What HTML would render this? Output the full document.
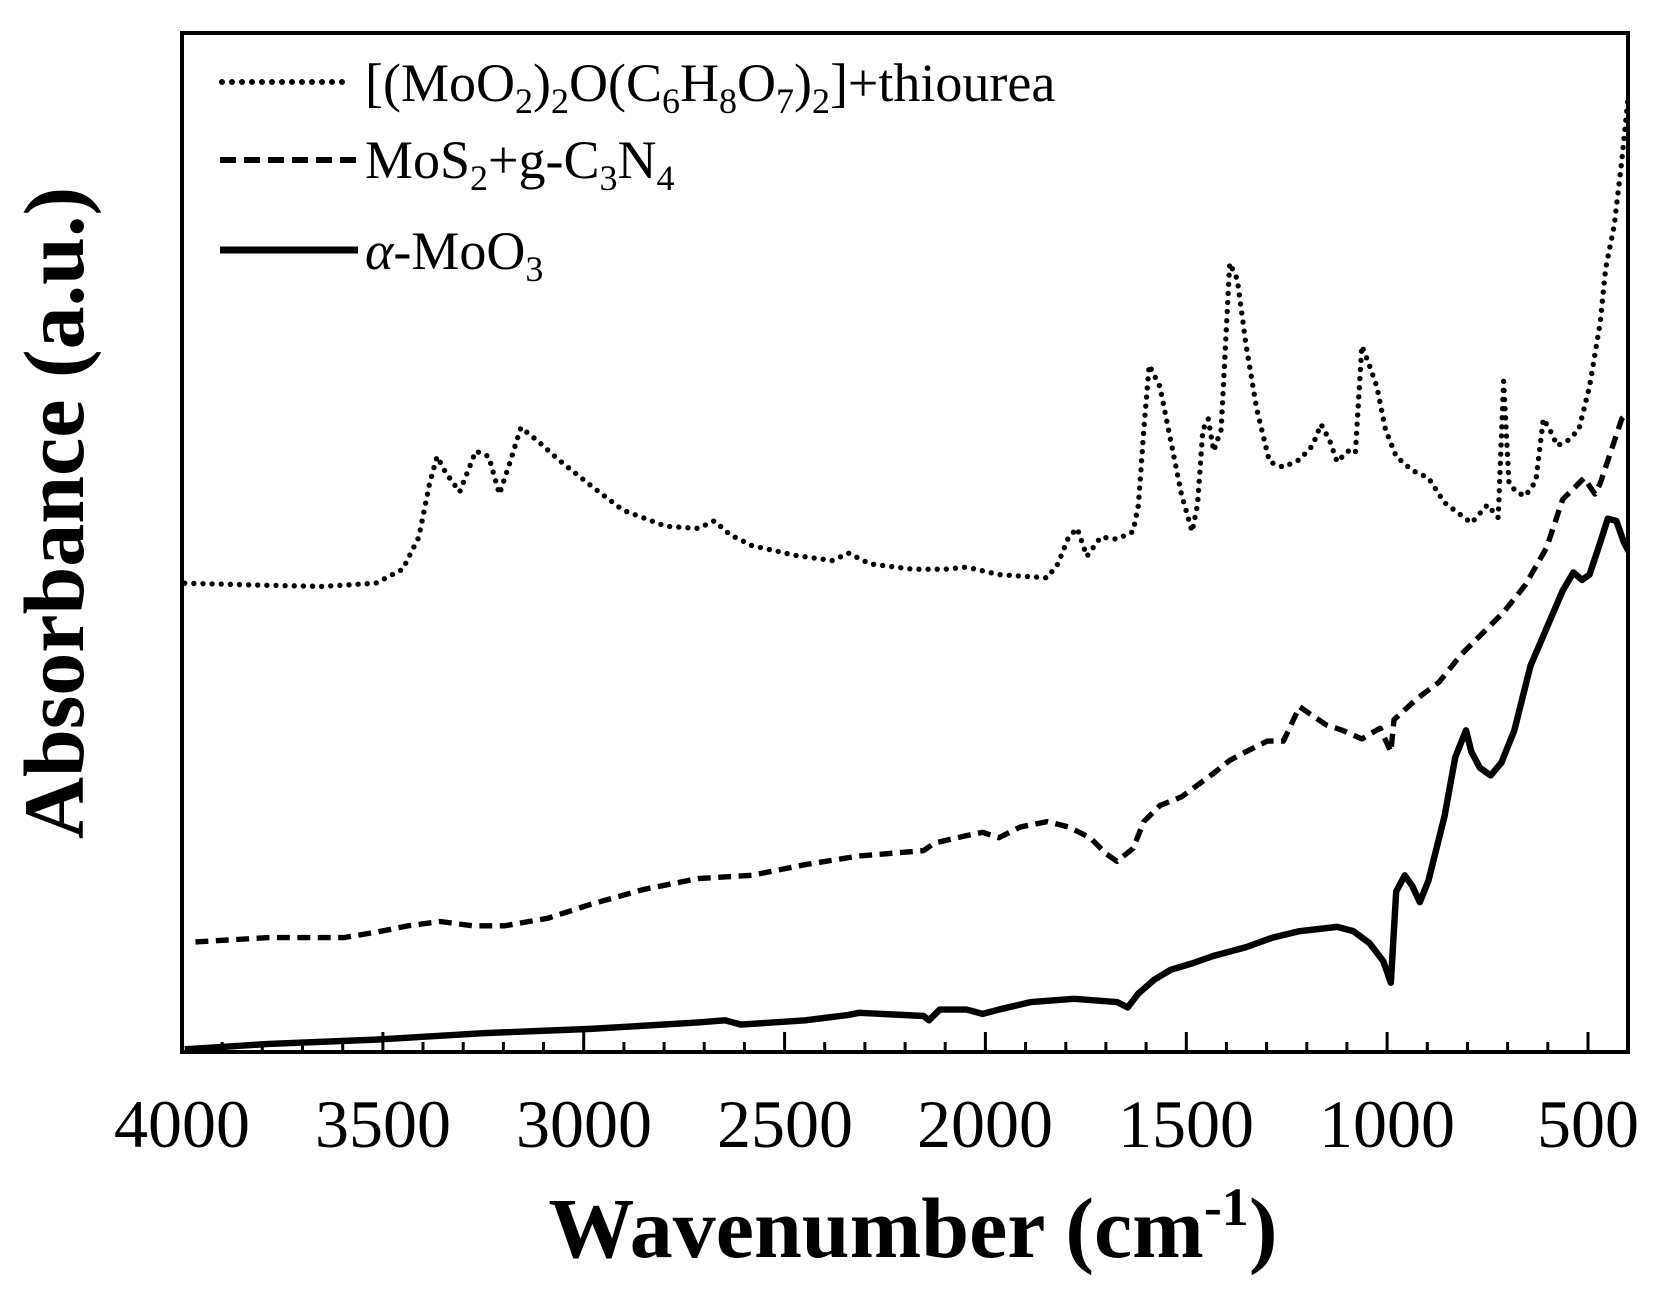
<!DOCTYPE html>
<html><head><meta charset="utf-8"><style>
html,body{margin:0;padding:0;background:#fff}
svg text{font-family:"Liberation Serif",serif}
</style></head><body>
<svg width="1676" height="1288" viewBox="0 0 1676 1288" xmlns="http://www.w3.org/2000/svg">
<defs><clipPath id="c"><rect x="182" y="33" width="1446" height="1019"/></clipPath></defs>
<g stroke="#000" stroke-width="3">
<line x1="222.2" y1="1052" x2="222.2" y2="1042"/><line x1="262.3" y1="1052" x2="262.3" y2="1042"/><line x1="302.5" y1="1052" x2="302.5" y2="1042"/><line x1="342.7" y1="1052" x2="342.7" y2="1042"/><line x1="382.9" y1="1052" x2="382.9" y2="1032"/>
<line x1="423" y1="1052" x2="423" y2="1042"/><line x1="463.2" y1="1052" x2="463.2" y2="1042"/><line x1="503.4" y1="1052" x2="503.4" y2="1042"/><line x1="543.5" y1="1052" x2="543.5" y2="1042"/><line x1="583.7" y1="1052" x2="583.7" y2="1032"/>
<line x1="623.9" y1="1052" x2="623.9" y2="1042"/><line x1="664.1" y1="1052" x2="664.1" y2="1042"/><line x1="704.2" y1="1052" x2="704.2" y2="1042"/><line x1="744.4" y1="1052" x2="744.4" y2="1042"/><line x1="784.6" y1="1052" x2="784.6" y2="1032"/>
<line x1="824.7" y1="1052" x2="824.7" y2="1042"/><line x1="864.9" y1="1052" x2="864.9" y2="1042"/><line x1="905.1" y1="1052" x2="905.1" y2="1042"/><line x1="945.2" y1="1052" x2="945.2" y2="1042"/><line x1="985.4" y1="1052" x2="985.4" y2="1032"/>
<line x1="1025.6" y1="1052" x2="1025.6" y2="1042"/><line x1="1065.8" y1="1052" x2="1065.8" y2="1042"/><line x1="1105.9" y1="1052" x2="1105.9" y2="1042"/><line x1="1146.1" y1="1052" x2="1146.1" y2="1042"/><line x1="1186.3" y1="1052" x2="1186.3" y2="1032"/>
<line x1="1226.4" y1="1052" x2="1226.4" y2="1042"/><line x1="1266.6" y1="1052" x2="1266.6" y2="1042"/><line x1="1306.8" y1="1052" x2="1306.8" y2="1042"/><line x1="1346.9" y1="1052" x2="1346.9" y2="1042"/><line x1="1387.1" y1="1052" x2="1387.1" y2="1032"/>
<line x1="1427.3" y1="1052" x2="1427.3" y2="1042"/><line x1="1467.5" y1="1052" x2="1467.5" y2="1042"/><line x1="1507.6" y1="1052" x2="1507.6" y2="1042"/><line x1="1547.8" y1="1052" x2="1547.8" y2="1042"/><line x1="1588" y1="1052" x2="1588" y2="1032"/>
</g>
<g font-size="68" text-anchor="middle" fill="#000">
<text x="182" y="1147">4000</text><text x="383" y="1147">3500</text><text x="584" y="1147">3000</text><text x="785" y="1147">2500</text><text x="985" y="1147">2000</text><text x="1186" y="1147">1500</text><text x="1387" y="1147">1000</text><text x="1588" y="1147">500</text>
</g>
<text x="913" y="1257" font-size="86" font-weight="bold" text-anchor="middle">Wavenumber (cm<tspan dy="-32" font-size="54">-1</tspan><tspan dy="32">)</tspan></text>
<text transform="translate(83,513) rotate(-90)" font-size="86" font-weight="bold" text-anchor="middle">Absorbance (a.u.)</text>
<g font-size="54" fill="#000">
<text x="365" y="101">[(MoO<tspan font-size="36" dy="12">2</tspan><tspan dy="-12">)</tspan><tspan font-size="36" dy="12">2</tspan><tspan dy="-12">O(C</tspan><tspan font-size="36" dy="12">6</tspan><tspan dy="-12">H</tspan><tspan font-size="36" dy="12">8</tspan><tspan dy="-12">O</tspan><tspan font-size="36" dy="12">7</tspan><tspan dy="-12">)</tspan><tspan font-size="36" dy="12">2</tspan><tspan dy="-12">]+thiourea</tspan></text>
<text x="365" y="178">MoS<tspan font-size="36" dy="12">2</tspan><tspan dy="-12">+g-C</tspan><tspan font-size="36" dy="12">3</tspan><tspan dy="-12">N</tspan><tspan font-size="36" dy="12">4</tspan></text>
<text x="365" y="269"><tspan font-style="italic">α</tspan>-MoO<tspan font-size="36" dy="12">3</tspan></text>
</g>
<line x1="222" y1="82" x2="352" y2="82" stroke="#000" stroke-width="6" stroke-linecap="round" stroke-dasharray="0 10"/>
<line x1="220" y1="160" x2="358" y2="160" stroke="#000" stroke-width="6" stroke-dasharray="16 8"/>
<line x1="220" y1="250" x2="358" y2="250" stroke="#000" stroke-width="7"/>
<g clip-path="url(#c)">
<g transform="scale(1.074)" fill="none" stroke="#000" stroke-linejoin="round">
<polyline stroke-width="5" stroke-linecap="round" stroke-dasharray="0 8.5" points="172,543 250,545 300,546 350,543 375,530 390,500 400,450 407,425 415,440 428,458 443,420 455,425 465,460 475,430 485,398 500,410 520,428 550,452 580,475 620,490 650,492 665,485 680,498 700,508 740,517 775,522 790,515 810,525 850,530 880,530 900,528 930,535 975,538 985,525 995,500 1003,492 1012,518 1025,500 1040,502 1055,495 1060,470 1065,400 1070,340 1080,360 1090,410 1100,460 1110,495 1115,470 1120,400 1125,390 1130,420 1137,400 1145,245 1152,260 1160,320 1170,380 1182,430 1195,435 1210,428 1222,415 1230,395 1238,410 1245,430 1255,420 1262,422 1268,322 1275,340 1282,360 1290,400 1300,425 1315,438 1330,445 1345,468 1370,487 1385,470 1395,482 1400,355 1405,450 1412,458 1420,462 1430,448 1437,390 1443,400 1450,415 1460,410 1470,400 1480,360 1490,300 1495,250 1503,210 1510,150 1515,100 1520,50"/>
<polyline stroke-width="5" stroke-dasharray="12 7" points="182,877 250,873 320,873 350,868 380,862 410,858 440,862 470,862 510,855 550,842 600,828 650,818 700,815 750,805 800,797 860,792 870,785 900,778 915,775 930,780 950,770 975,765 995,770 1015,780 1030,795 1040,802 1055,790 1065,765 1080,750 1100,742 1130,720 1145,708 1160,700 1180,690 1195,690 1210,658 1220,665 1235,675 1250,680 1268,688 1285,678 1295,700 1298,670 1320,650 1340,635 1360,610 1380,590 1400,570 1420,545 1440,510 1455,465 1475,445 1485,460 1490,450 1500,420 1510,390 1520,380 1525,390"/>
<polyline stroke-width="6" points="172,977 250,972 350,968 450,962 550,958 650,952 675,950 690,954 750,950 790,945 800,943 860,946 865,950 875,940 900,940 915,944 930,940 960,933 1000,930 1040,933 1050,938 1060,925 1075,912 1090,903 1110,897 1130,890 1160,882 1185,873 1210,867 1245,863 1260,867 1275,878 1288,895 1295,915 1300,830 1308,815 1315,825 1322,840 1330,820 1345,760 1355,705 1365,680 1370,700 1378,715 1388,722 1398,710 1410,680 1425,620 1440,585 1455,550 1465,533 1473,540 1480,535 1490,505 1497,483 1505,485 1512,505 1520,520 1525,530"/>
</g>
</g>
<rect x="182" y="33" width="1446" height="1019" fill="none" stroke="#000" stroke-width="4"/>
</svg>
</body></html>
